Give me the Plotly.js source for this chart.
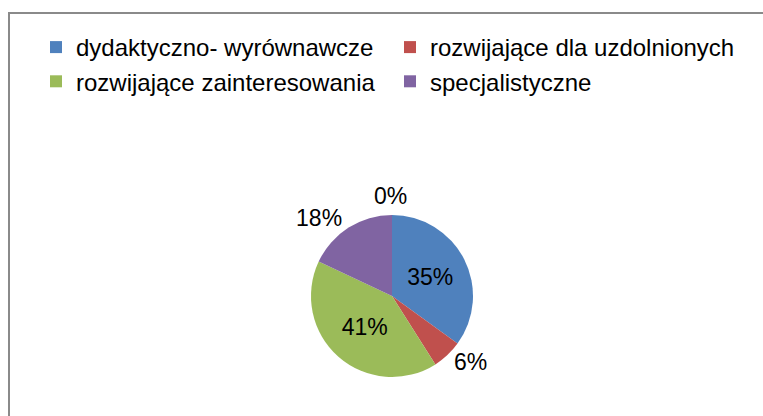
<!DOCTYPE html>
<html>
<head>
<meta charset="utf-8">
<script src="https://cdn.plot.ly/plotly-3.0.1.min.js"></script>
<style>html,body{margin:0;padding:0;background:#fff;}#chart{width:763px;height:416px;}</style>
</head>
<body>
<div id="chart"></div>
<script>
const categories = ["dydaktyczno- wyrównawcze", "rozwijające dla uzdolnionych", "rozwijające zainteresowania", "specjalistyczne"];
const values = [35, 6, 41, 18];
// an unnamed fifth category with no entries (shown in the original only as "0%")
const unnamedValue = 0;
const colors = ["#4F81BD", "#C0504D", "#9BBB59", "#8064A2"];
const textPositions = ["inside", "outside", "inside", "outside"];

const W = 763, H = 416;
const FONT = "Liberation Sans, Arial, sans-serif";
const total = values.reduce((a, b) => a + b, 0) + unnamedValue;

const trace = {
  type: "pie",
  labels: categories,
  values: values,
  sort: false,
  direction: "clockwise",
  rotation: 0,
  marker: {colors: colors, line: {width: 0}},
  textinfo: "percent",
  textposition: textPositions,
  insidetextorientation: "horizontal",
  insidetextfont: {family: FONT, size: 23, color: "#000"},
  outsidetextfont: {family: FONT, size: 23, color: "#000"},
  domain: {x: [311 / W, 473 / W], y: [1 - 377 / H, 1 - 215 / H]},
  hoverinfo: "label+percent"
};

const layout = {
  width: W, height: H,
  margin: {l: 0, r: 0, t: 0, b: 0},
  paper_bgcolor: "#fff",
  showlegend: true,
  legend: {
    orientation: "h",
    x: 36 / W, xanchor: "left",
    y: 1 - 25 / H, yanchor: "top",
    entrywidth: 309,
    itemwidth: 30,
    bgcolor: "rgba(0,0,0,0)",
    font: {family: FONT, size: 24, color: "#000"},
    traceorder: "normal"
  },
  annotations: [{
    xref: "paper", yref: "paper",
    x: 390 / W, y: 1 - 196 / H, xanchor: "center", yanchor: "middle",
    text: Math.round(100 * unnamedValue / total) + "%",
    showarrow: false,
    font: {family: FONT, size: 23, color: "#000"}
  }],
  shapes: [{
    type: "rect", xref: "paper", yref: "paper",
    x0: 9 / W, x1: 1.05, y0: -0.05, y1: 1 - 13 / H,
    line: {color: "#8a8a8a", width: 2}, fillcolor: "rgba(0,0,0,0)", layer: "below"
  }]
};

Plotly.newPlot("chart", [trace], layout, {displayModeBar: false, staticPlot: true});
</script>
</body>
</html>
